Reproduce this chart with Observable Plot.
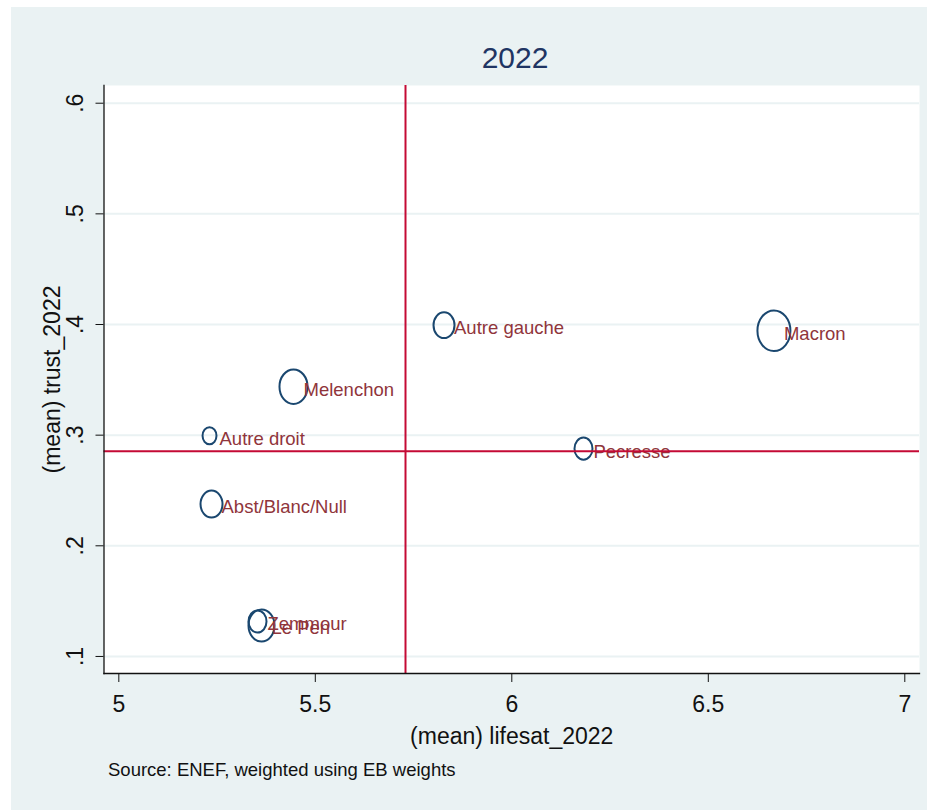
<!DOCTYPE html>
<html>
<head>
<meta charset="utf-8">
<script src="https://cdn.jsdelivr.net/npm/d3@7"></script>
<script src="https://cdn.jsdelivr.net/npm/@observablehq/plot@0.6"></script>
<style>
  html, body { margin: 0; padding: 0; background: #ffffff; }
  body { width: 927px; height: 810px; position: relative; overflow: hidden; font-family: "Liberation Sans", Arial, Helvetica, sans-serif; }
  #fig { position: absolute; left: 11px; top: 7px; width: 916px; height: 803px; background: #eaf2f3; }
  #title { height: 70px; line-height: 101px; text-align: center; font-size: 30px; color: #1f3563; padding-left: 0; white-space: nowrap; }
  #title span { display: inline-block; width: 816px; margin-left: 92px; text-align: center; }
  #caption { height: 30px; line-height: 30px; font-size: 18.5px; color: #111; padding-left: 97px; white-space: nowrap; }
  svg { display: block; }
</style>
</head>
<body>
<div id="fig">
  <div id="title"><span>2022</span></div>
  <div id="chart"></div>
  <div id="caption">Source: ENEF, weighted using EB weights</div>
</div>
<script>
// ---- data ----
const candidates = ["Macron", "Autre gauche", "Melenchon", "Autre droit", "Pecresse", "Abst/Blanc/Null", "Le Pen", "Zemmour"];
const lifesat   = [6.667, 5.8275, 5.4445, 5.2308, 6.1824, 5.2359, 5.3631, 5.3529];
const trust     = [0.3944, 0.3994, 0.3438, 0.2995, 0.2878, 0.2377, 0.1280, 0.1316];
const weights   = [25.2, 10.2, 18.2, 4.5, 7.5, 11.2, 15.7, 7.5];   // share of sample (%), sets marker size
const xTicks = [5, 5.5, 6, 6.5, 7];
const yTicks = [0.1, 0.2, 0.3, 0.4, 0.5, 0.6];
const meanLifesat = 5.7295;   // reference vertical line
const meanTrust = 0.2855;     // reference horizontal line
const xTitle = "(mean) lifesat_2022";
const yTitle = "(mean) trust_2022";

const rows = candidates.map((name, i) => ({name, lifesat: lifesat[i], trust: trust[i], weight: weights[i]}));

// ellipse symbol (the reference picture is stretched vertically)
const ellipse = {
  draw(context, size) {
    const r = Math.sqrt(size / Math.PI);
    const rx = r, ry = r * 1.23, k = 0.5523;
    context.moveTo(rx, 0);
    context.bezierCurveTo(rx, k * ry, k * rx, ry, 0, ry);
    context.bezierCurveTo(-k * rx, ry, -rx, k * ry, -rx, 0);
    context.bezierCurveTo(-rx, -k * ry, -k * rx, -ry, 0, -ry);
    context.bezierCurveTo(k * rx, -ry, rx, -k * ry, rx, 0);
    context.closePath();
  }
};

const font = "\"Liberation Sans\", Arial, Helvetica, sans-serif";

const chart = Plot.plot({
  width: 916,
  height: 678,
  marginLeft: 92.5,
  marginRight: 8,
  marginTop: 8,
  marginBottom: 82,
  style: {background: "transparent", fontFamily: font, color: "#111"},
  x: {domain: [4.9623, 7.0374]},
  y: {domain: [0.0846, 0.616]},
  r: {type: "sqrt", domain: [0, 25.2], range: [0, 16.5]},
  marks: [
    Plot.frame({fill: "white", stroke: "none"}),
    Plot.ruleY(yTicks, {y: d => d, stroke: "#eaf2f3", strokeWidth: 2}),
    Plot.dot(rows, {x: "lifesat", y: "trust", r: "weight", symbol: ellipse, stroke: "#1a476f", strokeWidth: 2, fill: "none"}),
    Plot.text(rows, {x: "lifesat", y: "trust", text: "name", dx: 10, dy: 3, textAnchor: "start", fill: "#90353b", fontSize: 18.5}),
    Plot.ruleX([meanLifesat], {stroke: "#c40a35", strokeWidth: 2}),
    Plot.ruleY([meanTrust], {stroke: "#c40a35", strokeWidth: 2}),
    Plot.frame({anchor: "left", stroke: "#111", strokeWidth: 1.3}),
    Plot.frame({anchor: "bottom", stroke: "#111", strokeWidth: 1.3}),
    Plot.axisX({ticks: xTicks, tickSize: 9, tickPadding: 13, fontSize: 23, label: null, stroke: "#111", fill: "#111",
                tickFormat: d => String(d)}),
    Plot.axisY({ticks: yTicks, tickSize: 8, tickPadding: 13, tickRotate: -90, fontSize: 23, label: null,
                tickFormat: d => d.toFixed(1).replace(/^0/, ""), stroke: "#111", fill: "#111"}),
    Plot.text([xTitle], {frameAnchor: "bottom", dy: 63, lineAnchor: "middle", fontSize: 23, fill: "#111"}),
    Plot.text([yTitle], {frameAnchor: "left", dx: -51, rotate: -90, textAnchor: "middle", lineAnchor: "middle", fontSize: 23, fill: "#111"})
  ]
});
document.getElementById("chart").appendChild(chart);
</script>
</body>
</html>
